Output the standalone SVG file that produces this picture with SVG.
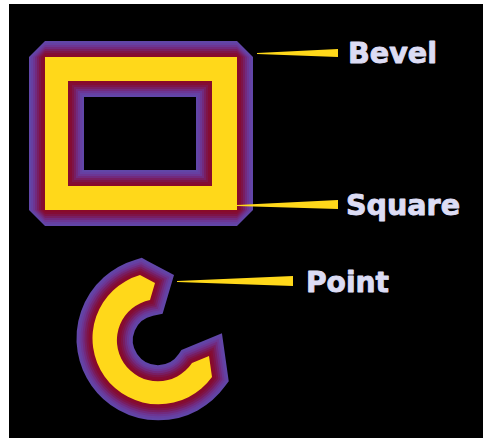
<svg xmlns="http://www.w3.org/2000/svg" width="483" height="438" viewBox="0 0 483 438">
<style>
.lbl{font-family:"DejaVu Sans","Liberation Sans",sans-serif;font-weight:bold;font-size:28px;fill:#dcdcf4;stroke:#dcdcf4;stroke-width:0.9;stroke-linejoin:round}
.lead{fill:#ffd81a}
.yel{fill:#ffd81a;fill-rule:evenodd}
.g{fill:none}
.g1{stroke:#6146a8;stroke-width:32}
.g2{stroke:#6640a2;stroke-width:28}
.g3{stroke:#6c3694;stroke-width:24}
.g4{stroke:#722a7e;stroke-width:20}
.g5{stroke:#781e62;stroke-width:16}
.g6{stroke:#7e1448;stroke-width:12}
.g7{stroke:#840c34;stroke-width:8}
.g8{stroke:#880a2a;stroke-width:4}
.bev{stroke-linejoin:bevel}
.mit{stroke-linejoin:miter;stroke-miterlimit:10}
</style>
<defs>
<path id="ring" d="M45,57 H237 V210 H45 Z M68,81 V186 H212 V81 Z"/>
<path id="cee" d="M140,275 L155,283 L150,300 A41,41 0 1,0 192,363 L209,356 L212,377 A66,66 0 1,1 140,275 Z"/>
</defs>
<rect x="0" y="0" width="483" height="438" fill="#ffffff"/>
<rect x="9" y="4" width="474" height="434" fill="#000000"/>
<g id="rect-node">
<use href="#ring" class="g g1 bev"/>
<use href="#ring" class="g g2 bev"/>
<use href="#ring" class="g g3 bev"/>
<use href="#ring" class="g g4 bev"/>
<use href="#ring" class="g g5 bev"/>
<use href="#ring" class="g g6 bev"/>
<use href="#ring" class="g g7 bev"/>
<use href="#ring" class="g g8 bev"/>
<use href="#ring" class="yel"/>
</g>
<g id="c-node">
<use href="#cee" class="g g1 mit"/>
<use href="#cee" class="g g2 mit"/>
<use href="#cee" class="g g3 mit"/>
<use href="#cee" class="g g4 mit"/>
<use href="#cee" class="g g5 mit"/>
<use href="#cee" class="g g6 mit"/>
<use href="#cee" class="g g7 mit"/>
<use href="#cee" class="g g8 mit"/>
<use href="#cee" class="yel"/>
</g>
<g id="connectors">
<polygon class="lead" points="257,53 338,49 338,57 257,54"/>
<polygon class="lead" points="237,205 338,200 338,209 237,206"/>
<polygon class="lead" points="177,281 293,276 293,286 177,282"/>
</g>
<g id="label-bevel"><text class="lbl" x="348" y="63" textLength="89" lengthAdjust="spacingAndGlyphs">Bevel</text></g>
<g id="label-square"><text class="lbl" x="346" y="215" textLength="114" lengthAdjust="spacingAndGlyphs">Square</text></g>
<g id="label-point"><text class="lbl" x="306" y="292" textLength="83" lengthAdjust="spacingAndGlyphs">Point</text></g>
</svg>
